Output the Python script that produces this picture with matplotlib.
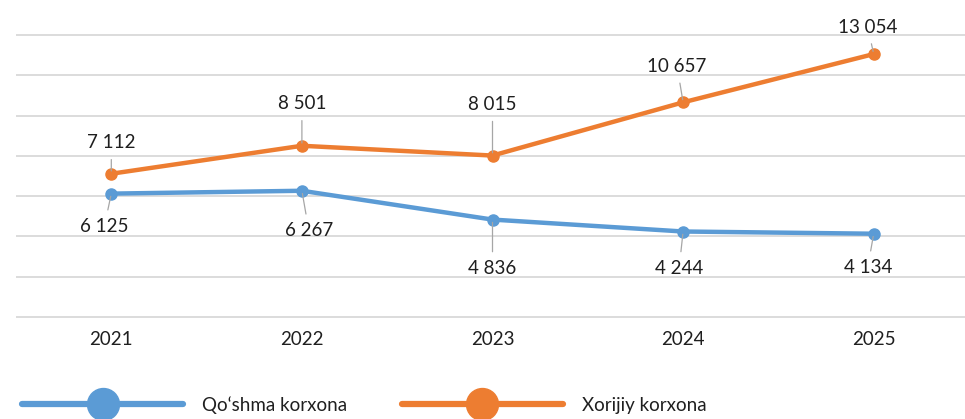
import matplotlib
matplotlib.use("Agg")
import matplotlib.pyplot as plt
from matplotlib.lines import Line2D

# -------------------------------
# data
# -------------------------------
years = ["2021", "2022", "2023", "2024", "2025"]
qoshma = [6125, 6267, 4836, 4244, 4134]
xorijiy = [7112, 8501, 8015, 10657, 13054]

# label offsets in pixels (dx, dy) relative to each point
qoshma_offsets = [(-7, -33), (7, -40), (0, -49), (-4, -37), (-6, -34)]
xorijiy_offsets = [(0, 31), (0, 42), (0, 51), (-6, 36), (-6, 27)]

blue = "#5B9BD5"
orange = "#ED7D31"
grid_c = "#D9D9D9"
lead_c = "#A6A6A6"
txt_c = "#1F1F1F"
fs = 13.5

plt.rcParams["font.family"] = ["Lato", "DejaVu Sans"]

fig = plt.figure(figsize=(9.65, 4.19), dpi=100)
ax = fig.add_axes([16 / 965, 100 / 419, 953 / 965, 286 / 419])

x = list(range(len(years)))
ax.plot(x, qoshma, color=blue, lw=3.2, marker="o", ms=8, solid_capstyle="round", zorder=3)
ax.plot(x, xorijiy, color=orange, lw=3.2, marker="o", ms=8, solid_capstyle="round", zorder=3)

def fmt(v):
    return f"{v:,}".replace(",", " ")

for xi, v, off in zip(x, qoshma, qoshma_offsets):
    ax.annotate(fmt(v), xy=(xi, v), xytext=off, textcoords="offset pixels",
                ha="center", va="center", fontsize=fs, color=txt_c,
                arrowprops=dict(arrowstyle="-", color=lead_c, lw=0.9,
                                shrinkA=4, shrinkB=2))
for xi, v, off in zip(x, xorijiy, xorijiy_offsets):
    ax.annotate(fmt(v), xy=(xi, v), xytext=off, textcoords="offset pixels",
                ha="center", va="center", fontsize=fs, color=txt_c,
                arrowprops=dict(arrowstyle="-", color=lead_c, lw=0.9,
                                shrinkA=4, shrinkB=2))

ax.set_xlim(-0.5, 4.5)
ax.set_ylim(-100, 14100)
ax.set_yticks(range(0, 14001, 2000))
ax.yaxis.grid(True, color=grid_c, lw=1.3)
ax.set_axisbelow(True)
ax.set_yticklabels([])
ax.tick_params(left=False, bottom=False, labelleft=False)
ax.set_xticks(x)
ax.set_xticklabels(years, fontsize=fs, color=txt_c)
ax.tick_params(axis="x", pad=5)
for s in ax.spines.values():
    s.set_visible(False)

# legend at the bottom
handles = [
    Line2D([], [], color=blue, lw=4.5, marker="o", ms=23, solid_capstyle="round"),
    Line2D([], [], color=orange, lw=4.5, marker="o", ms=23, solid_capstyle="round"),
]
fig.legend(handles, ["Qo\u2018shma korxona", "Xorijiy korxona"],
           loc="center left", bbox_to_anchor=(22 / 965, 14 / 419),
           ncol=2, frameon=False, fontsize=fs, handlelength=8.6,
           handletextpad=1.0, columnspacing=2.9, borderpad=0, borderaxespad=0,
           labelcolor=txt_c)

fig.savefig("out.png", dpi=100)
